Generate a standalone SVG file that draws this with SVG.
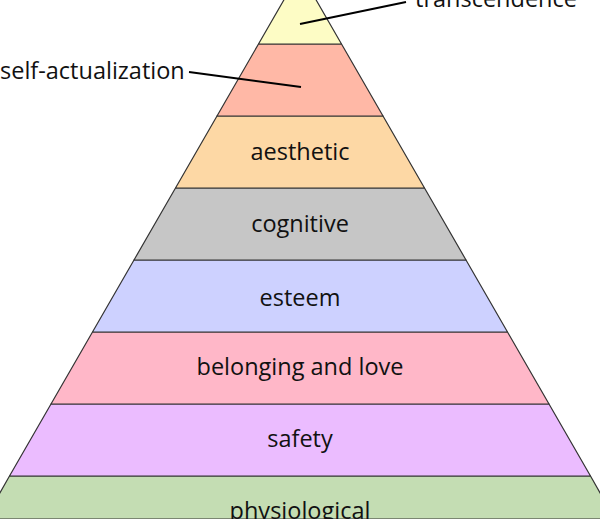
<svg xmlns="http://www.w3.org/2000/svg" width="600" height="519" viewBox="0 0 600 519">
<style>
.t{stroke:#333;stroke-width:1.2;stroke-linejoin:round}
.l{font-family:"Open Sans","Liberation Sans",sans-serif;font-size:23.5px;fill:#111;text-anchor:middle}
.s{font-family:"Open Sans","Liberation Sans",sans-serif;font-size:23.5px;fill:#111}
.c{stroke:#000;stroke-width:2;fill:none}
</style>
<rect width="600" height="519" fill="#fff"/>
<g id="physiological"><polygon class="t" fill="#c4ddb3" points="9.5,476 590.5,476 615,519 -15,519"/><text class="l" x="300" y="519">physiological</text></g>
<g id="safety"><polygon class="t" fill="#ebbcff" points="51,404 549,404 590.5,476 9.5,476"/><text class="l" x="300" y="447">safety</text></g>
<g id="belonging"><polygon class="t" fill="#ffb7c8" points="92.5,332 507.5,332 549,404 51,404"/><text class="l" x="300" y="375">belonging and love</text></g>
<g id="esteem"><polygon class="t" fill="#cdd1ff" points="134,260 466,260 507.5,332 92.5,332"/><text class="l" x="300" y="306">esteem</text></g>
<g id="cognitive"><polygon class="t" fill="#c6c6c6" points="175.5,188 424.5,188 466,260 134,260"/><text class="l" x="300" y="232">cognitive</text></g>
<g id="aesthetic"><polygon class="t" fill="#fdd8a5" points="217,116 383,116 424.5,188 175.5,188"/><text class="l" x="300" y="160">aesthetic</text></g>
<g id="self-actualization"><polygon class="t" fill="#ffb8a6" points="258.5,44 341.5,44 383,116 217,116"/><text class="s" x="0" y="79">self-actualization</text></g>
<g id="transcendence"><polygon class="t" fill="#fdfcc5" points="300,-28 341.5,44 258.5,44"/><text class="s" x="415" y="7">transcendence</text></g>
<g id="connectors">
<line class="c" x1="406" y1="2" x2="300" y2="24"/>
<line class="c" x1="189" y1="72" x2="301" y2="87"/>
</g>
</svg>
